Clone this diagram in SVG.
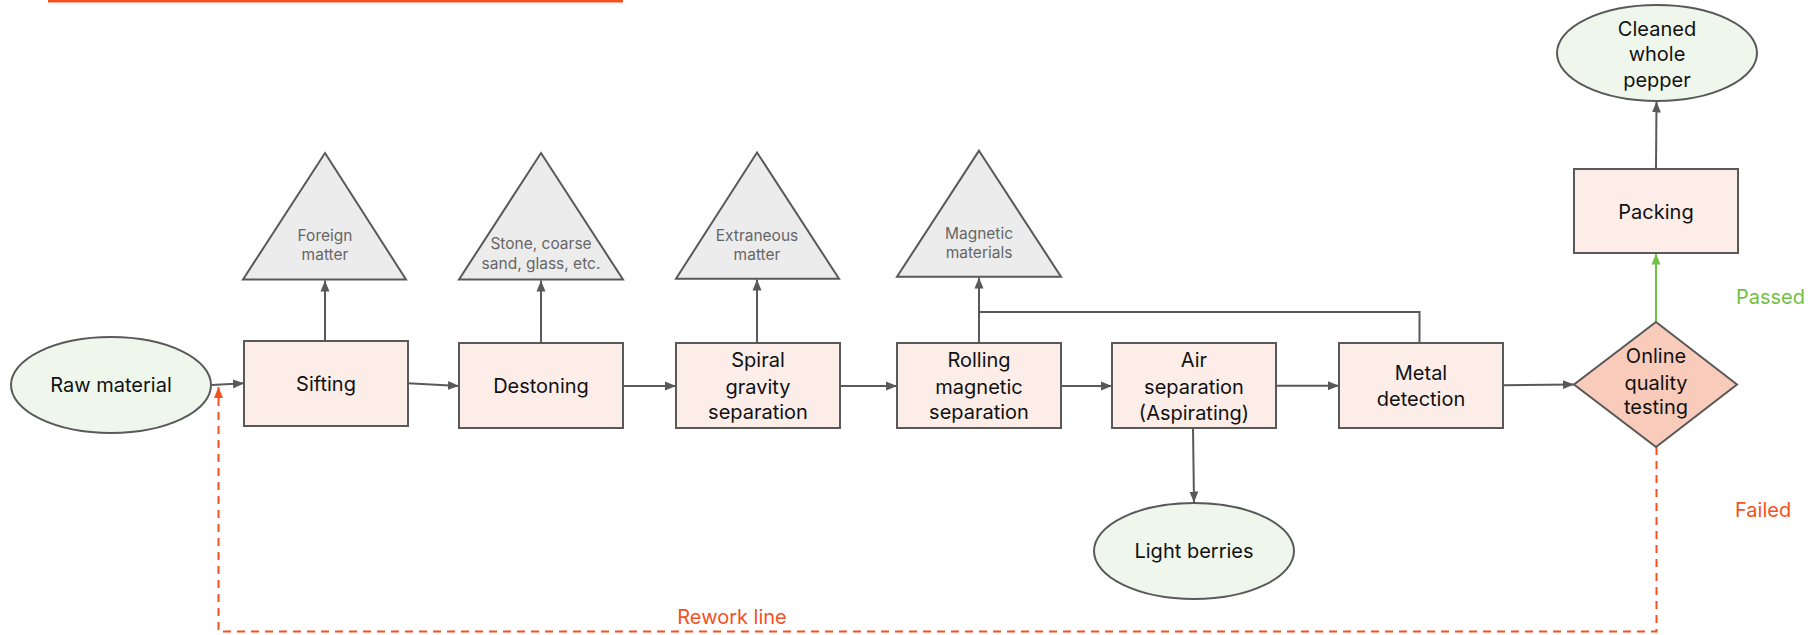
<svg xmlns="http://www.w3.org/2000/svg" width="1817" height="635" viewBox="0 0 1817 635">
  <style>
    .box { fill: #fcede9; stroke: #595959; stroke-width: 2; }
    .term { fill: #eff7ec; stroke: #595959; stroke-width: 2; }
    .tri { fill: #ececec; stroke: #595959; stroke-width: 2; stroke-linejoin: miter; }
    .dia { fill: #f8cbbb; stroke: #595959; stroke-width: 2; }
    .t { font-family: Inter, "Liberation Sans", sans-serif; font-size: 20px; fill: #111; text-anchor: middle; }
    .ts { font-family: Inter, "Liberation Sans", sans-serif; font-size: 15.5px; fill: #666; text-anchor: middle; }
    .conn { fill: none; stroke: #595959; stroke-width: 2; }
    .pass { fill: none; stroke: #72c044; stroke-width: 2; }
    .fail { fill: none; stroke: #f4511e; stroke-width: 2; stroke-dasharray: 8 6; }
    .lbl { font-family: Inter, "Liberation Sans", sans-serif; font-size: 20px; }
  </style>
  <defs>
    <marker id="ah" markerUnits="userSpaceOnUse" markerWidth="12" markerHeight="10" refX="11" refY="5" orient="auto">
      <path d="M0,0.5 L11,5 L0,9.5 z" fill="#595959"/>
    </marker>
    <marker id="ahg" markerUnits="userSpaceOnUse" markerWidth="12" markerHeight="10" refX="11" refY="5" orient="auto">
      <path d="M0,0.5 L11,5 L0,9.5 z" fill="#72c044"/>
    </marker>
    <marker id="aho" markerUnits="userSpaceOnUse" markerWidth="12" markerHeight="10" refX="11" refY="5" orient="auto">
      <path d="M0,0.5 L11,5 L0,9.5 z" fill="#f4511e"/>
    </marker>
  </defs>

  <line x1="48" y1="1.2" x2="623" y2="1.2" stroke="#f4511e" stroke-width="2.5"/>

  <g id="connectors">
    <path class="conn" d="M212,385 L244,383.3" marker-end="url(#ah)"/>
    <path class="conn" d="M408,383.3 L459,386" marker-end="url(#ah)"/>
    <path class="conn" d="M623,386 L676,386" marker-end="url(#ah)"/>
    <path class="conn" d="M840,386 L897,386" marker-end="url(#ah)"/>
    <path class="conn" d="M1061,386 L1112,386" marker-end="url(#ah)"/>
    <path class="conn" d="M1276,385.7 L1339,385.7" marker-end="url(#ah)"/>
    <path class="conn" d="M1503,385.3 L1574,384.5" marker-end="url(#ah)"/>
    <path class="conn" d="M325,341 L325,280.5" marker-end="url(#ah)"/>
    <path class="conn" d="M541,343 L541,280.5" marker-end="url(#ah)"/>
    <path class="conn" d="M757,343 L757,279.5" marker-end="url(#ah)"/>
    <path class="conn" d="M979,343 L979,277.5" marker-end="url(#ah)"/>
    <path class="conn" d="M1419.5,343 V312 H979"/>
    <path class="conn" d="M1193,428 L1194,502.5" marker-end="url(#ah)"/>
    <path class="pass" d="M1656,322 L1656,253.5" marker-end="url(#ahg)"/>
    <path class="conn" d="M1656,169 L1656.5,101.5" marker-end="url(#ah)"/>
    <path class="fail" d="M1656.5,447 V631.5 H218.5 V387" marker-end="url(#aho)"/>
  </g>

  <g id="raw-material">
    <ellipse class="term" cx="111" cy="385" rx="100" ry="48"/>
    <text class="t" x="111" y="392">Raw material</text>
  </g>
  <g id="sifting">
    <rect class="box" x="244" y="341" width="164" height="85"/>
    <text class="t" x="326" y="391">Sifting</text>
  </g>
  <g id="destoning">
    <rect class="box" x="459" y="343" width="164" height="85"/>
    <text class="t" x="541" y="393">Destoning</text>
  </g>
  <g id="spiral">
    <rect class="box" x="676" y="343" width="164" height="85"/>
    <text class="t" x="758" y="367">Spiral</text>
    <text class="t" x="758" y="393.5">gravity</text>
    <text class="t" x="758" y="419">separation</text>
  </g>
  <g id="rolling">
    <rect class="box" x="897" y="343" width="164" height="85"/>
    <text class="t" x="979" y="367">Rolling</text>
    <text class="t" x="979" y="393.5">magnetic</text>
    <text class="t" x="979" y="419">separation</text>
  </g>
  <g id="air">
    <rect class="box" x="1112" y="343" width="164" height="85"/>
    <text class="t" x="1194" y="367">Air</text>
    <text class="t" x="1194" y="393.5">separation</text>
    <text class="t" x="1194" y="419.5">(Aspirating)</text>
  </g>
  <g id="metal">
    <rect class="box" x="1339" y="343" width="164" height="85"/>
    <text class="t" x="1421" y="380">Metal</text>
    <text class="t" x="1421" y="406">detection</text>
  </g>
  <g id="quality">
    <polygon class="dia" points="1656,322 1737,384.5 1656,447 1574,384.5"/>
    <text class="t" x="1656" y="363">Online</text>
    <text class="t" x="1656" y="389.5">quality</text>
    <text class="t" x="1656" y="414">testing</text>
  </g>
  <g id="packing">
    <rect class="box" x="1574" y="169" width="164" height="84"/>
    <text class="t" x="1656" y="219">Packing</text>
  </g>
  <g id="cleaned">
    <ellipse class="term" cx="1657" cy="53" rx="100" ry="48"/>
    <text class="t" x="1657" y="36">Cleaned</text>
    <text class="t" x="1657" y="61">whole</text>
    <text class="t" x="1657" y="87">pepper</text>
  </g>
  <g id="light-berries">
    <ellipse class="term" cx="1194" cy="551" rx="100" ry="48"/>
    <text class="t" x="1194" y="558">Light berries</text>
  </g>
  <g id="foreign">
    <polygon class="tri" points="325,153 406,279.5 243,279.5"/>
    <text class="ts" x="325" y="240.5">Foreign</text>
    <text class="ts" x="325" y="259.5">matter</text>
  </g>
  <g id="stone">
    <polygon class="tri" points="541,153 623,279.5 459,279.5"/>
    <text class="ts" x="541" y="248.5">Stone, coarse</text>
    <text class="ts" x="541" y="268.5">sand, glass, etc.</text>
  </g>
  <g id="extraneous">
    <polygon class="tri" points="757,152.5 839,278.7 676,278.7"/>
    <text class="ts" x="757" y="240.5">Extraneous</text>
    <text class="ts" x="757" y="259.5">matter</text>
  </g>
  <g id="magnetic">
    <polygon class="tri" points="979,150.7 1061,276.7 897,276.7"/>
    <text class="ts" x="979" y="238.5">Magnetic</text>
    <text class="ts" x="979" y="257.5">materials</text>
  </g>

  <text class="lbl" x="1736" y="304" fill="#72c044">Passed</text>
  <text class="lbl" x="1735" y="517" fill="#f4511e">Failed</text>
  <text class="lbl" x="732" y="624" fill="#f4511e" text-anchor="middle">Rework line</text>
</svg>
